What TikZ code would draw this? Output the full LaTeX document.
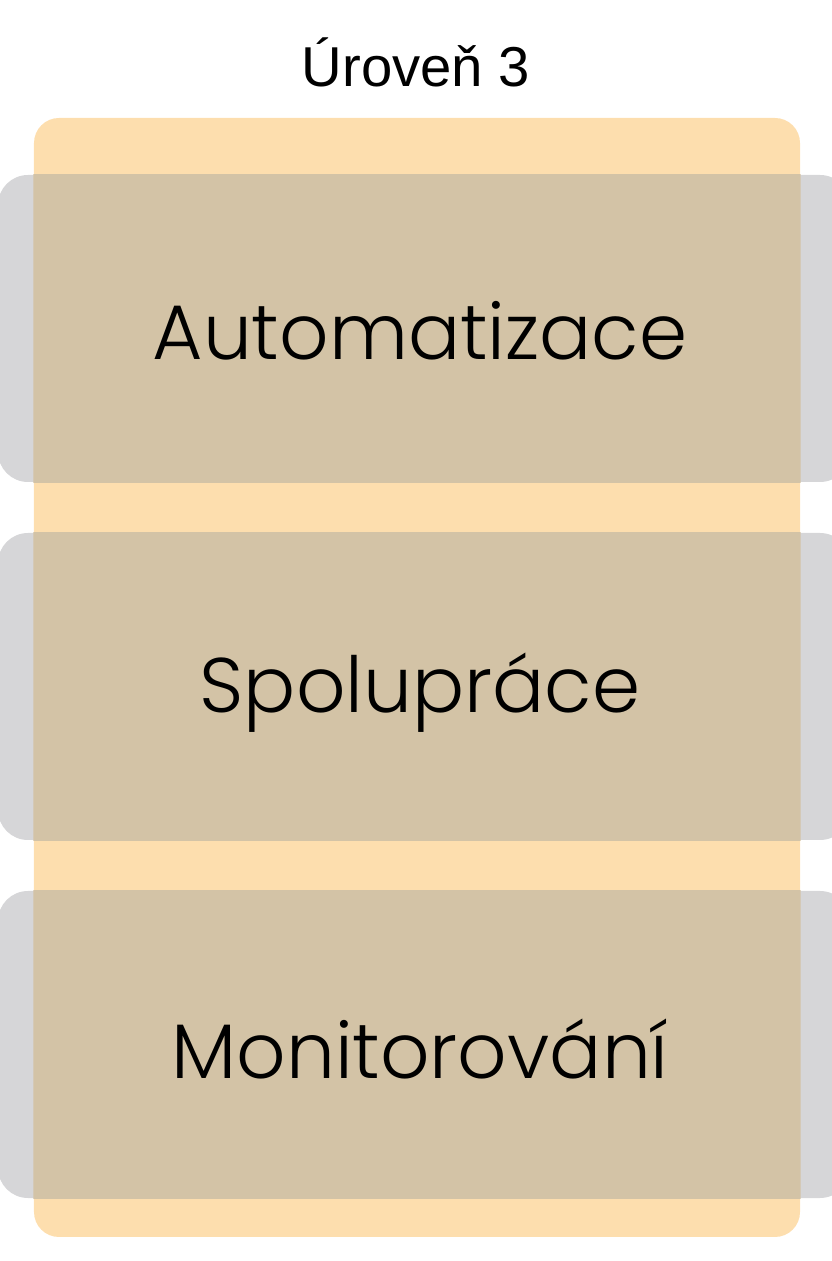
\documentclass[tikz,border=0pt]{standalone}
\usepackage{fontspec}
\setmainfont{Poppins Light}
\newfontfamily\titlefont{Liberation Sans}
\usetikzlibrary{positioning}
\definecolor{PanelOrange}{HTML}{FDDEAE}
\definecolor{LayerGray}{HTML}{D6D6D8}
\definecolor{LayerTan}{HTML}{D3C3A6}

\begin{document}
\begin{tikzpicture}[
  panel/.style={rectangle, rounded corners=0.25cm, fill=PanelOrange, minimum width=7.66cm, minimum height=11.19cm, inner sep=0pt},
  layerbox/.style={rectangle, rounded corners=0.3cm, fill=LayerGray, minimum width=8.52cm, minimum height=3.07cm, inner sep=0pt},
  layertext/.style={font=\fontsize{22}{26}\selectfont, text=black},
  titletext/.style={font=\titlefont\fontsize{16}{19}\selectfont, text=black}
]
\useasboundingbox (0,0) rectangle (8.32,12.61);
\clip (0,0) rectangle (8.32,12.61);

% Title
\node[titletext] (title) at (4.16,11.99) {Úroveň 3};

% Orange panel
\node[panel] (panel) at (4.17,5.835) {};

% Gray layers
\node[layerbox] (auto) at (4.24,9.325) {};
\node[layerbox] (spol) at (4.24,5.745) {};
\node[layerbox] (moni) at (4.24,2.165) {};

% Overlap of panel and layers
\begin{scope}
  \clip (panel.south west) rectangle (panel.north east);
  \foreach \n in {auto,spol,moni} {
    \fill[LayerTan] (\n.south west) rectangle (\n.north east);
  }
\end{scope}

% Layer texts
\node[layertext] (autotext) at (4.2,9.3) {Automatizace};
\node[layertext] (spoltext) at (4.2,5.68) {Spolupráce};
\node[layertext] (monitext) at (4.2,2.12) {Monitorování};

\end{tikzpicture}
\end{document}
